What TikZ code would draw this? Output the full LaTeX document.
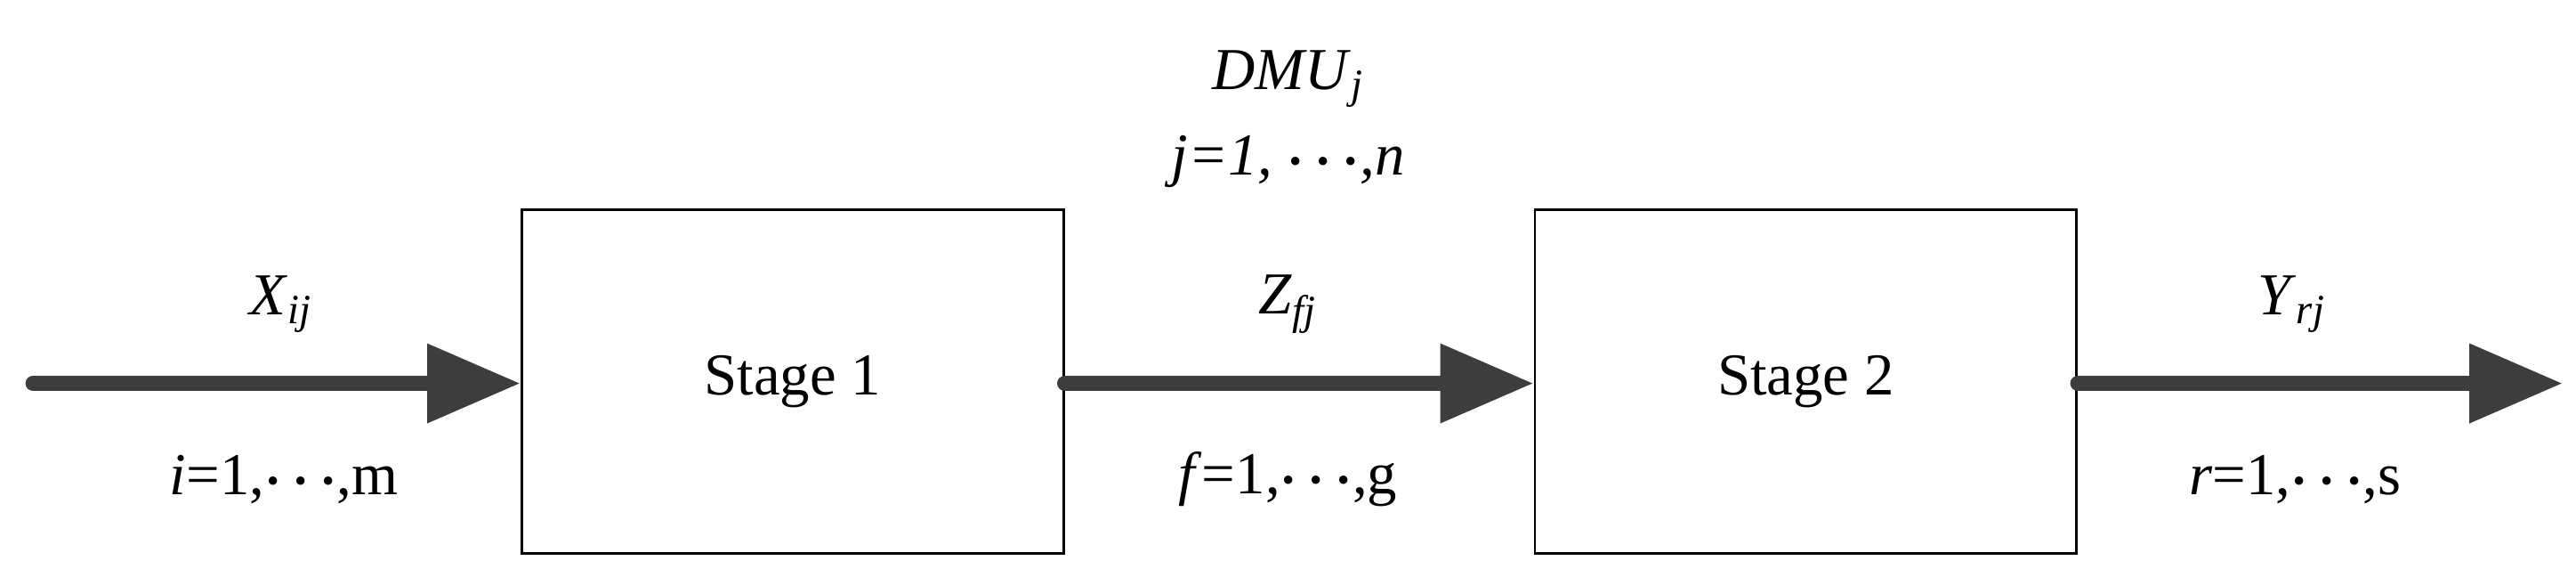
\documentclass[tikz,border=0pt]{standalone}
\usepackage{fontspec}
\setmainfont{Liberation Serif}
\usetikzlibrary{arrows.meta}
\newcommand{\mydots}{{\boldmath$\cdots$}}
\newcommand{\sub}[1]{\textsubscript{\textit{#1}}}
\begin{document}
\begin{tikzpicture}[x=0.01856cm,y=-0.01856cm,
  box/.style={draw,line width=0.8pt,minimum width=0.01856cm*328,minimum height=0.01856cm*208,inner sep=0pt,font=\fontsize{19}{22}\selectfont},
  flow/.style={draw=black!76,line width=0.17cm,line cap=round,-{Triangle[length=1.05cm,width=0.85cm,line cap=butt]}},
  lab/.style={font=\fontsize{19}{22}\selectfont}]
\useasboundingbox (0,0) rectangle (1560,344);
\node[box] (s1) at (480,231) {Stage 1};
\node[box] (s2) at (1093.5,231) {Stage 2};
\coordinate (in) at (20,232);
\coordinate (out) at (1552,232);
\draw[flow] (in) -- (s1.west|-in);
\draw[flow] (s1.east|-in) -- (s2.west|-in);
\draw[flow] (s2.east|-in) -- (out);
\node[lab] (x) at (170,184) {\textit{X}\sub{ij}};
\node[lab] (xi) at (172,290) {\textit{i}=1,\mydots,m};
\node[lab] (dmu) at (780,48) {\textit{DMU}\sub{j}};
\node[lab] (jn) at (780,98) {\textit{j=1, \mydots,n}};
\node[lab] (z) at (780,184) {\textit{Z}\sub{fj}};
\node[lab] (zf) at (780,290) {\textit{f}=1,\mydots,g};
\node[lab] (y) at (1388,184) {\textit{Y}\sub{rj}};
\node[lab] (yr) at (1390,290) {\textit{r}=1,\mydots,s};
\end{tikzpicture}
\end{document}
